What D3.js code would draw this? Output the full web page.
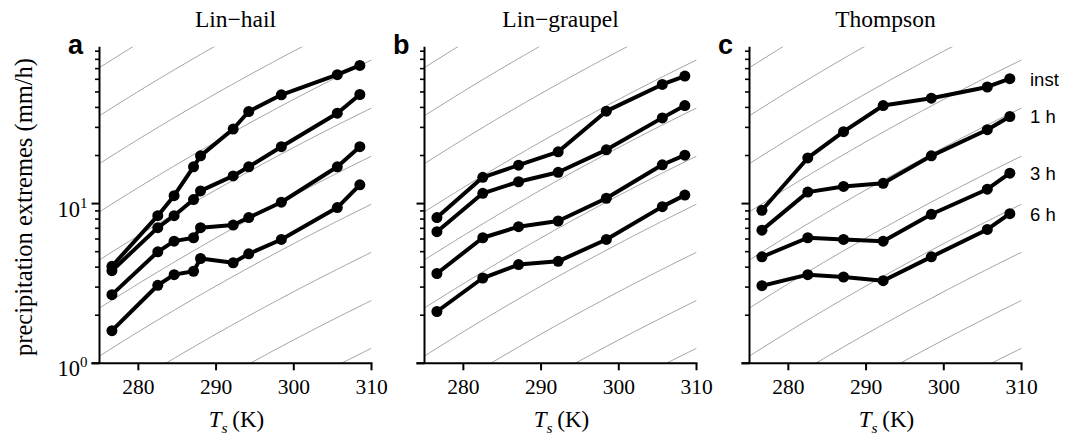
<!DOCTYPE html>
<html>
<head>
<meta charset="utf-8">
<script src="https://cdn.jsdelivr.net/npm/d3@7/dist/d3.min.js"></script>
<style>
  html, body { margin: 0; padding: 0; background: #fff; }
  svg { display: block; }
</style>
</head>
<body>
<svg id="chart" width="1079" height="437"></svg>
<script>
// ---- data ----
const panelTitles = ["Lin\u2212hail", "Lin\u2212graupel", "Thompson"];
const panelLetters = ["a", "b", "c"];
const seriesNames = ["inst", "1 h", "3 h", "6 h"];

const tempsA = [276.6, 282.5, 284.6, 287.1, 288.0, 292.2, 294.2, 298.4, 305.6, 308.5];
const tempsBC = [276.6, 282.5, 287.1, 292.2, 298.4, 305.6, 308.5];

const linHailInst = [4.05, 8.4, 11.2, 17.0, 19.9, 29.3, 37.7, 48.0, 64.1, 73.3];
const linHail1h   = [3.8, 7.07, 8.4, 10.6, 12.0, 14.9, 17.0, 22.7, 36.8, 48.2];
const linHail3h   = [2.69, 4.99, 5.82, 6.11, 7.07, 7.34, 8.17, 10.2, 17.0, 22.7];
const linHail6h   = [1.60, 3.08, 3.59, 3.77, 4.53, 4.26, 4.85, 5.96, 9.44, 13.1];

const linGraupelInst = [8.17, 14.6, 17.4, 21.1, 37.9, 55.7, 62.9];
const linGraupel1h   = [6.67, 11.6, 13.7, 15.7, 21.7, 34.4, 41.1];
const linGraupel3h   = [3.65, 6.11, 7.17, 7.78, 10.8, 17.5, 20.1];
const linGraupel6h   = [2.11, 3.42, 4.15, 4.35, 5.96, 9.57, 11.3];

const thompsonInst = [9.08, 19.3, 28.2, 41.1, 45.7, 53.7, 60.5];
const thompson1h   = [6.82, 11.8, 12.8, 13.4, 19.9, 29.0, 35.1];
const thompson3h   = [4.64, 6.11, 5.96, 5.82, 8.57, 12.3, 15.5];
const thompson6h   = [3.06, 3.59, 3.47, 3.29, 4.64, 6.89, 8.65];

const xTicks = [280, 290, 300, 310];
const yMajorTicks = [1, 10];
const yMinorTicks = [2, 3, 4, 5, 6, 7, 8, 9, 20, 30, 40, 50, 60, 70, 80, 90];
const xDomain = [275, 310];
const yDomain = [1, 96];
// Clausius-Clapeyron guide lines: value of each line at T = 275 K
const guideValuesAt275 = [0.139, 0.277, 0.555, 1.11, 2.22, 4.44, 8.88, 17.8, 35.5, 71.0];

const panels = [
  { temps: tempsA,  series: [linHailInst, linHail1h, linHail3h, linHail6h] },
  { temps: tempsBC, series: [linGraupelInst, linGraupel1h, linGraupel3h, linGraupel6h] },
  { temps: tempsBC, series: [thompsonInst, thompson1h, thompson3h, thompson6h] }
];

// ---- layout ----
const panelLeft = [99.5, 424.5, 749.5];
const panelWidth = 272;
const yTop = 46.7, yBottom = 363.3;

const svg = d3.select("#chart");
svg.append("rect").attr("width", 1079).attr("height", 437).attr("fill", "#fff");

const y = d3.scaleLog().domain(yDomain).range([yBottom, yTop]);

function satVap(T) { // Bolton saturation vapour pressure (shape of guide curves)
  const t = T - 273.15;
  return 6.112 * Math.exp(17.67 * t / (t + 243.5));
}
const guideT = d3.range(xDomain[0], xDomain[1] + 0.001, 0.25);

const serif = "'Liberation Serif', 'Times New Roman', serif";
const sans = "'Liberation Sans', Arial, Helvetica, sans-serif";

panels.forEach((p, i) => {
  const x0 = panelLeft[i];
  const x = d3.scaleLinear().domain(xDomain).range([x0, x0 + panelWidth]);
  const g = svg.append("g");

  // clip
  const clipId = "clip" + i;
  svg.append("clipPath").attr("id", clipId)
    .append("rect")
    .attr("x", x0).attr("y", yTop)
    .attr("width", panelWidth).attr("height", yBottom - yTop);

  // guide lines
  const gl = g.append("g").attr("clip-path", `url(#${clipId})`);
  const e0 = satVap(xDomain[0]);
  guideValuesAt275.forEach(v => {
    const line = d3.line()
      .x(T => x(T))
      .y(T => y(v * satVap(T) / e0));
    gl.append("path")
      .attr("d", line(guideT))
      .attr("fill", "none")
      .attr("stroke", "#a0a0a0")
      .attr("stroke-width", 1);
  });

  // axes
  const axisG = g.append("g").attr("stroke", "#000").attr("stroke-width", 2);
  axisG.append("line")
    .attr("x1", x0).attr("x2", x0)
    .attr("y1", yTop).attr("y2", yBottom);
  axisG.append("line")
    .attr("x1", x0 - 8).attr("x2", x(xDomain[1]) + 1)
    .attr("y1", yBottom).attr("y2", yBottom);
  xTicks.forEach(t => {
    axisG.append("line")
      .attr("x1", x(t)).attr("x2", x(t))
      .attr("y1", yBottom).attr("y2", yBottom + 7);
  });
  yMajorTicks.forEach(t => {
    axisG.append("line")
      .attr("x1", x0 - 8).attr("x2", x0)
      .attr("y1", y(t)).attr("y2", y(t));
  });
  yMinorTicks.forEach(t => {
    axisG.append("line")
      .attr("x1", x0 - 4.5).attr("x2", x0)
      .attr("y1", y(t)).attr("y2", y(t))
      .attr("stroke-width", 1.6);
  });

  // x tick labels
  xTicks.forEach(t => {
    g.append("text")
      .attr("x", x(t)).attr("y", 394)
      .attr("text-anchor", "middle")
      .attr("font-family", serif).attr("font-size", 21.5)
      .text(t);
  });

  // y tick labels only on first panel
  if (i === 0) {
    yMajorTicks.forEach((t, k) => {
      const tx = g.append("text")
        .attr("x", x0 - 12).attr("y", y(t) + 13)
        .attr("text-anchor", "end")
        .attr("font-family", serif).attr("font-size", 22.5);
      tx.append("tspan").text("10");
      tx.append("tspan").attr("dy", -9).attr("font-size", 15).text(String(Math.round(Math.log10(t))));
    });
  }

  // x label
  const xl = g.append("text")
    .attr("x", x0 + panelWidth / 2 + 1).attr("y", 427)
    .attr("text-anchor", "middle")
    .attr("font-family", serif).attr("font-size", 23);
  xl.append("tspan").attr("font-style", "italic").text("T");
  xl.append("tspan").attr("font-style", "italic").attr("font-size", 15.5).attr("dy", 6).text("s");
  xl.append("tspan").attr("dy", -6).text("\u2009(K)");

  // title
  g.append("text")
    .attr("x", x0 + panelWidth / 2).attr("y", 27)
    .attr("text-anchor", "middle")
    .attr("font-family", serif).attr("font-size", 23.5)
    .text(panelTitles[i]);

  // panel letter
  g.append("text")
    .attr("x", x0 - 31.5).attr("y", 54)
    .attr("font-family", sans).attr("font-weight", "bold").attr("font-size", 27)
    .text(panelLetters[i]);

  // series
  const lineGen = d3.line().x((d, k) => x(p.temps[k])).y(d => y(d));
  p.series.forEach((vals, s) => {
    g.append("path")
      .attr("d", lineGen(vals))
      .attr("fill", "none")
      .attr("stroke", "#000")
      .attr("stroke-width", 4)
      .attr("stroke-linejoin", "round");
    g.selectAll(null).data(vals).enter().append("circle")
      .attr("cx", (d, k) => x(p.temps[k]))
      .attr("cy", d => y(d))
      .attr("r", 5.5)
      .attr("fill", "#000");
    if (i === 2) {
      g.append("text")
        .attr("x", 1030).attr("y", y(vals[vals.length - 1]) + 7)
        .attr("font-family", sans).attr("font-size", 18.5)
        .text(seriesNames[s]);
    }
  });
});

// y axis label
svg.append("text")
  .attr("transform", "translate(32,207) rotate(-90)")
  .attr("text-anchor", "middle")
  .attr("font-family", serif).attr("font-size", 24.5)
  .text("precipitation extremes (mm/h)");
</script>
</body>
</html>
